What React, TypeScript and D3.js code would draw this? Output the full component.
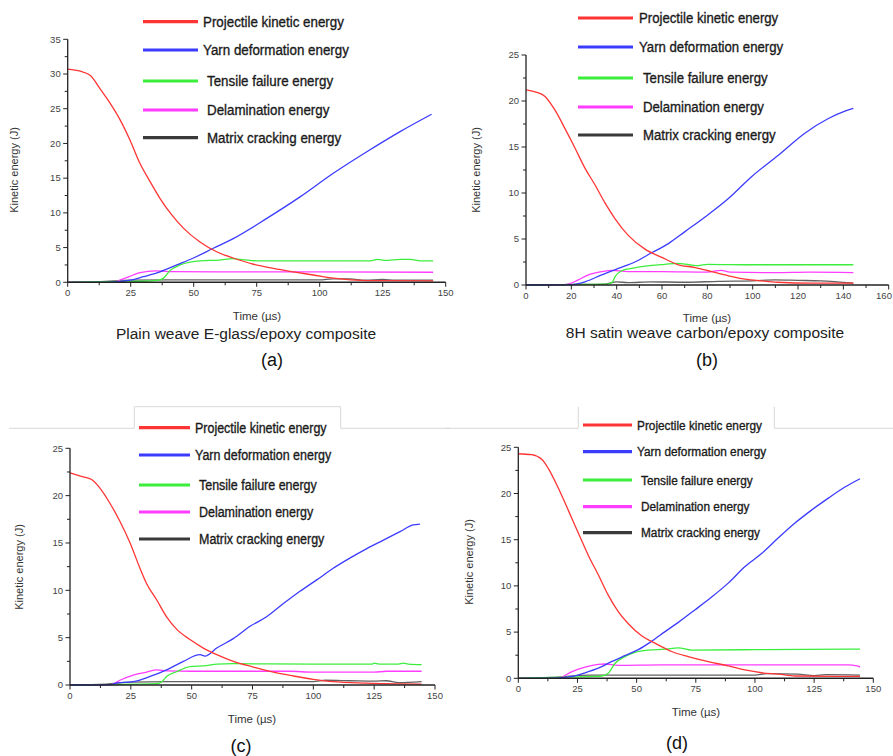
import React from "react";
import * as d3 from "d3";

type Pt = [number, number];

// ---------- Legend labels ----------
const seriesNames = [
  "Projectile kinetic energy",
  "Yarn deformation energy",
  "Tensile failure energy",
  "Delamination energy",
  "Matrix cracking energy",
];
const seriesColors = ["#ff3535", "#3c3cff", "#3cee3c", "#ff3cff", "#3a3a3a"];

// ---------- Panel (a): Plain weave E-glass/epoxy ----------
const aProjectile: Pt[] = [[0,30.7],[5,30.4],[9,29.8],[12.8,27.9],[16.8,25.8],[20.8,23.4],[24.7,20.5],[28.7,17.1],[32.7,14.5],[36.6,12.1],[41.3,9.7],[45.9,7.8],[52.5,5.8],[59.1,4.4],[65.7,3.5],[73.7,2.6],[81.6,2.0],[89.6,1.5],[97.5,1.05],[105.4,0.6],[118.7,0.25],[145,0.2]];
const aYarn: Pt[] = [[0,0],[14,0],[20,0.1],[26,0.4],[30,0.8],[36.6,1.5],[43.3,2.5],[49.9,3.5],[57.8,4.9],[65.7,6.3],[79,9.2],[92.2,12.3],[105.4,15.7],[118.7,18.8],[131.9,21.7],[144.4,24.2]];
const aTensile: Pt[] = [[0,0],[14,0.1],[30,0.15],[36,0.3],[38,0.6],[40.6,1.7],[44.6,2.5],[48.5,2.9],[52.5,3.1],[60,3.2],[65.7,3.4],[68.4,3.3],[75,3.1],[120,3.1],[123,3.3],[126,3.15],[132,3.3],[136,3.3],[140,3.1],[145,3.1]];
const aDelam: Pt[] = [[0,0],[18,0],[22,0.5],[26,1.05],[28.7,1.4],[35,1.65],[40,1.55],[60,1.5],[100,1.5],[145,1.45]];
const aMatrix: Pt[] = [[0,0],[13,0.1],[25,0.3],[40,0.35],[100,0.35],[105,0.5],[112,0.5],[118,0.3],[125,0.4],[130,0.3],[145,0.3]];
const aYTicks = [0, 5, 10, 15, 20, 25, 30, 35];
const aXTicks = [0, 25, 50, 75, 100, 125, 150];

// ---------- Panel (b): 8H satin weave carbon/epoxy ----------
const bProjectile: Pt[] = [[0,21.2],[4,21],[8.4,20.5],[12.8,19.0],[17.2,17.0],[21.6,14.9],[26,12.7],[30.4,10.9],[34.9,8.9],[39.3,7.2],[45.1,5.4],[52.5,3.9],[59.9,3.0],[67.2,2.2],[74.6,1.9],[81.9,1.45],[89.3,1.0],[96.6,0.65],[104,0.45],[111,0.3],[126,0.2],[144.4,0.2]];
const bYarn: Pt[] = [[0,0],[20,0.05],[26,0.35],[33.4,1.1],[40.7,1.8],[48,2.5],[55.4,3.5],[62.8,4.5],[70.1,5.8],[79,7.4],[89.3,9.4],[99.6,11.8],[111.3,14.1],[123,16.5],[133.4,18.1],[140.7,18.9],[144.4,19.2]];
const bTensile: Pt[] = [[0,0],[15,0.05],[36,0.1],[38,0.3],[39.3,0.9],[42.2,1.55],[46.6,1.8],[52.5,2.05],[61.3,2.25],[67,2.35],[72,2.2],[76,2.1],[80,2.25],[100,2.2],[144.4,2.2]];
const bDelam: Pt[] = [[0,0],[17,0.05],[20,0.2],[23,0.55],[27.5,1.1],[33.4,1.45],[37.8,1.6],[45,1.45],[60,1.45],[80,1.4],[86,1.6],[90,1.4],[110,1.35],[125,1.4],[144.4,1.35]];
const bMatrix: Pt[] = [[0,0],[20,0.05],[35,0.1],[40,0.35],[45,0.25],[55,0.35],[70,0.3],[85,0.4],[100,0.45],[110,0.55],[120,0.5],[130,0.45],[144.4,0.2]];
const bYTicks = [0, 5, 10, 15, 20, 25];
const bXTicks = [0, 20, 40, 60, 80, 100, 120, 140, 160];

// ---------- Panel (c) ----------
const cProjectile: Pt[] = [[0,22.4],[5,22.0],[8.9,21.7],[12.3,20.8],[16.4,19.2],[20.5,17.3],[24.7,15.0],[28.8,12.3],[31.5,10.7],[35.6,9.0],[39.7,7.2],[43.8,5.9],[49.3,4.8],[54.8,3.9],[60.3,3.2],[67.1,2.5],[75.3,1.9],[83.6,1.35],[91.8,0.95],[100,0.6],[108,0.35],[122,0.2],[144.5,0.1]];
const cYarn: Pt[] = [[0,0],[17,0.05],[19,0.2],[26,0.35],[32.9,0.9],[39.7,1.6],[46.6,2.5],[53.4,3.2],[55.5,3.05],[60.3,3.9],[67.1,4.9],[74,6.2],[80.8,7.2],[87.7,8.6],[94.5,9.9],[101.4,11.1],[108,12.3],[115,13.4],[122,14.4],[128.8,15.3],[135.6,16.2],[141,16.9],[143.8,17.0]];
const cTensile: Pt[] = [[0,0],[15,0.05],[36,0.15],[38,0.4],[39.7,0.9],[43.8,1.4],[49.3,1.95],[56,2.05],[60.3,2.2],[67,2.25],[100,2.2],[124,2.2],[125,2.3],[127,2.2],[135,2.2],[137,2.3],[139,2.2],[144.5,2.15]];
const cDelam: Pt[] = [[0,0],[17,0.05],[20.5,0.5],[26,1.05],[31.5,1.35],[35.6,1.6],[39.7,1.5],[50,1.45],[90,1.45],[100,1.35],[125,1.35],[130,1.45],[144.5,1.45]];
const cMatrix: Pt[] = [[0,0],[15,0.1],[25,0.3],[40,0.35],[100,0.35],[105,0.5],[115,0.45],[125,0.4],[130,0.45],[135,0.25],[144.5,0.35]];
const cYTicks = [0, 5, 10, 15, 20, 25];
const cXTicks = [0, 25, 50, 75, 100, 125, 150];

// ---------- Panel (d) ----------
const dProjectile: Pt[] = [[0,24.3],[5.6,24.2],[9.9,23.7],[12.7,22.7],[16.9,20.6],[21.1,18.2],[25.4,15.7],[29.6,13.3],[33.8,11.2],[38,9.0],[42.3,7.2],[46.5,5.9],[52.1,4.6],[57.7,3.8],[64.8,2.9],[71.8,2.35],[80.3,1.8],[88.7,1.35],[95.8,0.9],[102.8,0.6],[110,0.45],[117,0.25],[144.4,0.2]];
const dYarn: Pt[] = [[0,0],[17,0.05],[22.5,0.2],[28.2,0.6],[33.8,1.1],[39.4,1.8],[45,2.45],[50.7,3.1],[56.3,4.0],[62,5.05],[67.6,6.05],[74.6,7.4],[81.7,8.8],[88.7,10.3],[95.8,12.1],[102.8,13.5],[109.9,15.2],[116.9,16.8],[123.9,18.2],[131,19.5],[138,20.7],[144.4,21.6]];
const dTensile: Pt[] = [[0,0],[15,0.1],[32,0.2],[35.2,0.25],[38,0.55],[40.8,1.6],[45,2.35],[49.3,2.8],[54.9,3.05],[62,3.15],[67.6,3.3],[73.2,3.05],[100,3.1],[144.4,3.15]];
const dDelam: Pt[] = [[0,0],[17,0.05],[22.5,0.7],[28.2,1.2],[33.8,1.5],[36.6,1.55],[42.3,1.4],[60,1.45],[100,1.45],[140,1.45],[144.4,1.25]];
const dMatrix: Pt[] = [[0,0],[14,0.1],[30,0.35],[100,0.35],[105,0.5],[118,0.45],[125,0.3],[130,0.4],[144.4,0.35]];
const dYTicks = [0, 5, 10, 15, 20, 25];
const dXTicks = [0, 25, 50, 75, 100, 125, 150];

const FONT = "'Liberation Sans', Arial, Helvetica, sans-serif";
const SVG_W = 893;

type PanelCfg = {
  series: Pt[][];
  xDomain: [number, number];
  yDomain: [number, number];
  xRange: [number, number];
  yRange: [number, number];
  xTicks: number[];
  yTicks: number[];
  xMinorStep: number;
  yMinorStep: number;
  xTitleX: number;
  xTitleY: number;
  yTitleX: number;
  yTitleY: number;
  legend: { x1: number; x2: number; ys: number[]; tx: number[]; fs: number; sx: number };
  caption?: { text: string; x: number; y: number };
  tag: { text: string; x: number; y: number };
};

function Panel({ cfg }: { cfg: PanelCfg }) {
  const x = d3.scaleLinear().domain(cfg.xDomain).range(cfg.xRange);
  const y = d3.scaleLinear().domain(cfg.yDomain).range(cfg.yRange);
  const line = d3
    .line<Pt>()
    .x((d) => x(d[0]))
    .y((d) => y(d[1]))
    .curve(d3.curveMonotoneX);
  const y0 = y(cfg.yDomain[0]);
  const x0 = x(cfg.xDomain[0]);
  const xMinor = d3.range(cfg.xDomain[0], cfg.xDomain[1] + 1e-6, cfg.xMinorStep);
  const yMinor = d3.range(cfg.yDomain[0], cfg.yDomain[1] + 1e-6, cfg.yMinorStep);
  const order = [4, 3, 2, 1, 0];
  return (
    <g>
      {order.map((i) => (
        <path
          key={i}
          d={line(cfg.series[i]) || ""}
          fill="none"
          stroke={seriesColors[i]}
          strokeWidth={1.3}
          strokeOpacity={i === 4 ? 0.8 : 1}
        />
      ))}
      <line x1={x0} x2={x(cfg.xDomain[1])} y1={y0} y2={y0} stroke="#222" strokeWidth={1.6} />
      <line x1={x0} x2={x0} y1={y0} y2={y(cfg.yDomain[1])} stroke="#222" strokeWidth={1.3} />
      {xMinor.map((t) => (
        <line key={"xm" + t} x1={x(t)} x2={x(t)} y1={y0} y2={y0 + (cfg.xTicks.includes(t) ? 4.5 : 3)} stroke="#222" strokeWidth={1} />
      ))}
      {yMinor.map((v) => (
        <line key={"ym" + v} x1={x0 - (cfg.yTicks.includes(v) ? 4.5 : 3)} x2={x0} y1={y(v)} y2={y(v)} stroke="#222" strokeWidth={1} />
      ))}
      {cfg.xTicks.map((t) => (
        <text
          key={"xt" + t}
          x={Math.min(x(t), SVG_W - 9)}
          y={y0 + 14}
          textAnchor="middle"
          fontSize={9.5}
          fill="#444"
          fontFamily={FONT}
        >
          {t}
        </text>
      ))}
      {cfg.yTicks.map((v) => (
        <text key={"yt" + v} x={x0 - 7} y={y(v) + 3.3} textAnchor="end" fontSize={9.5} fill="#444" fontFamily={FONT}>
          {v}
        </text>
      ))}
      <text x={cfg.xTitleX} y={cfg.xTitleY} textAnchor="middle" fontSize={11.5} fill="#333" fontFamily={FONT}>
        Time (µs)
      </text>
      <text
        transform={`translate(${cfg.yTitleX},${cfg.yTitleY}) rotate(-90)`}
        textAnchor="middle"
        fontSize={11}
        fill="#333"
        fontFamily={FONT}
      >
        Kinetic energy (J)
      </text>
      {seriesNames.map((name, i) => (
        <g key={"lg" + i}>
          <line x1={cfg.legend.x1} x2={cfg.legend.x2} y1={cfg.legend.ys[i]} y2={cfg.legend.ys[i]} stroke={seriesColors[i]} strokeWidth={3.2} />
          <text
            transform={`translate(${cfg.legend.tx[i]},${cfg.legend.ys[i] + cfg.legend.fs * 0.36}) scale(${cfg.legend.sx},1)`}
            fontSize={cfg.legend.fs}
            fill="#1a1a1a"
            stroke="#1a1a1a"
            strokeWidth={0.35}
            fontFamily={FONT}
          >
            {name}
          </text>
        </g>
      ))}
      {cfg.caption && (
        <text x={cfg.caption.x} y={cfg.caption.y} textAnchor="middle" fontSize={15.5} fill="#222" fontFamily={FONT}>
          {cfg.caption.text}
        </text>
      )}
      <text x={cfg.tag.x} y={cfg.tag.y} textAnchor="middle" fontSize={18} fill="#111" fontFamily={FONT}>
        {cfg.tag.text}
      </text>
    </g>
  );
}

const panels: PanelCfg[] = [
  {
    series: [aProjectile, aYarn, aTensile, aDelam, aMatrix],
    xDomain: [0, 150],
    yDomain: [0, 35],
    xRange: [67.7, 445.7],
    yRange: [282.3, 39.3],
    xTicks: aXTicks,
    yTicks: aYTicks,
    xMinorStep: 12.5,
    yMinorStep: 2.5,
    xTitleX: 257,
    xTitleY: 320,
    yTitleX: 18,
    yTitleY: 170,
    legend: { x1: 143, x2: 198, ys: [21.7, 50, 81, 110, 137.7], tx: [203, 203, 207, 207, 207], fs: 15, sx: 0.89 },
    caption: { text: "Plain weave E-glass/epoxy composite", x: 246, y: 339 },
    tag: { text: "(a)", x: 272, y: 366 },
  },
  {
    series: [bProjectile, bYarn, bTensile, bDelam, bMatrix],
    xDomain: [0, 160],
    yDomain: [0, 25],
    xRange: [526, 888.7],
    yRange: [285, 55],
    xTicks: bXTicks,
    yTicks: bYTicks,
    xMinorStep: 10,
    yMinorStep: 2.5,
    xTitleX: 707,
    xTitleY: 322,
    yTitleX: 480,
    yTitleY: 170,
    legend: { x1: 578, x2: 633, ys: [18, 47, 78, 107, 135], tx: [639, 639, 643, 643, 643], fs: 15, sx: 0.88 },
    caption: { text: "8H  satin weave carbon/epoxy composite", x: 705, y: 338 },
    tag: { text: "(b)", x: 707, y: 366 },
  },
  {
    series: [cProjectile, cYarn, cTensile, cDelam, cMatrix],
    xDomain: [0, 150],
    yDomain: [0, 25],
    xRange: [70, 435],
    yRange: [685, 448.3],
    xTicks: cXTicks,
    yTicks: cYTicks,
    xMinorStep: 12.5,
    yMinorStep: 2.5,
    xTitleX: 252,
    xTitleY: 723,
    yTitleX: 23,
    yTitleY: 567,
    legend: { x1: 139, x2: 190, ys: [427.7, 455, 485, 512, 539], tx: [195, 195, 199, 199, 199], fs: 14, sx: 0.89 },
    tag: { text: "(c)", x: 241, y: 752 },
  },
  {
    series: [dProjectile, dYarn, dTensile, dDelam, dMatrix],
    xDomain: [0, 150],
    yDomain: [0, 25],
    xRange: [518.3, 873.3],
    yRange: [678.3, 447.3],
    xTicks: dXTicks,
    yTicks: dYTicks,
    xMinorStep: 12.5,
    yMinorStep: 2.5,
    xTitleX: 696,
    xTitleY: 716,
    yTitleX: 473,
    yTitleY: 562,
    legend: { x1: 583, x2: 632, ys: [425, 451.7, 480, 506.7, 532.7], tx: [637, 637, 641, 641, 641], fs: 13.3, sx: 0.89 },
    tag: { text: "(d)", x: 677, y: 749 },
  },
];

export default function App() {
  return (
    <div style={{ position: "absolute", left: 0, top: 0 }}>
      <svg width={SVG_W} height={756} style={{ display: "block", background: "#fff" }}>
        <rect width={SVG_W} height={756} fill="#fff" />
        <g stroke="#d8d8d8" strokeWidth={1} fill="none">
          <path d="M9,428.3 H134.3 V406.7 H340.7 V428.3 H450" />
          <path d="M445,428.3 H578.3 V406.7 M774.3,406.7 V428.3 H893" />
        </g>
        {panels.map((p, i) => (
          <Panel key={i} cfg={p} />
        ))}
      </svg>
    </div>
  );
}
